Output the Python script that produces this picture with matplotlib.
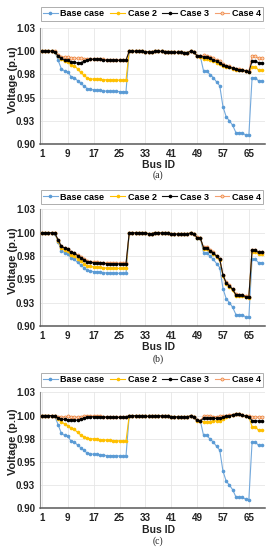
import matplotlib
matplotlib.use('Agg')
import matplotlib.pyplot as plt

plt.rcParams['font.family'] = ['Liberation Sans', 'DejaVu Sans']
plt.rcParams['font.weight'] = 'bold'

bus_ids = list(range(1, 70))
x_tick_labels = [1, 9, 17, 25, 33, 41, 49, 57, 65]
y_ticks = [0.900, 0.925, 0.950, 0.975, 1.000, 1.025]
y_tick_labels = ['0.90', '0.93', '0.95', '0.98', '1.00', '1.03']
series_names = ['Base case', 'Case 2', 'Case 3', 'Case 4']
panel_labels = ['(a)', '(b)', '(c)']

base_case = [1.0, 1.0, 0.9999, 0.9998, 0.9990, 0.9901, 0.9808, 0.9786, 0.9775, 0.9725,
             0.9714, 0.9682, 0.9653, 0.9624, 0.9595, 0.9590, 0.9581, 0.9581, 0.9576, 0.9573,
             0.9568, 0.9568, 0.9568, 0.9566, 0.9564, 0.9564, 0.9563,
             0.9999, 0.9999, 0.9997, 0.9997, 0.9996, 0.9994, 0.9990, 0.9990, 0.9999, 0.9998,
             0.9996, 0.9995, 0.9995, 0.9988, 0.9986, 0.9985, 0.9985, 0.9984, 0.9984, 0.9998,
             0.9985, 0.9947, 0.9942,
             0.9785, 0.9785, 0.9747, 0.9714, 0.9669, 0.9626, 0.9401, 0.9292, 0.9250, 0.9200,
             0.9123, 0.9121, 0.9117, 0.9098, 0.9092,
             0.9713, 0.9713, 0.9679, 0.9679]

# ---- panel (a)
case2_a = [1.0, 1.0, 1.0, 0.9999, 0.9995, 0.995, 0.991, 0.989, 0.988, 0.985,
           0.984, 0.981, 0.977, 0.974, 0.971, 0.970, 0.9698, 0.9697, 0.9694, 0.9692,
           0.969, 0.969, 0.9689, 0.9688, 0.9687, 0.9686, 0.9686,
           0.9999, 0.9999, 0.9997, 0.9997, 0.9996, 0.9994, 0.9990, 0.9990, 0.9999, 0.9998,
           0.9996, 0.9995, 0.9995, 0.9988, 0.9986, 0.9985, 0.9985, 0.9984, 0.9984, 0.9998,
           0.9985, 0.9947, 0.9940,
           0.9915, 0.9912, 0.990, 0.9888, 0.9875, 0.986, 0.984, 0.983, 0.9823, 0.981,
           0.980, 0.9798, 0.9795, 0.978, 0.977,
           0.983, 0.983, 0.9796, 0.9796]
case3_a = [1.0, 1.0, 1.0, 0.9999, 0.9995, 0.9945, 0.992, 0.9905, 0.990, 0.9885,
           0.9878, 0.9872, 0.9875, 0.989, 0.9905, 0.991, 0.9912, 0.9912, 0.991, 0.9905,
           0.990, 0.990, 0.990, 0.990, 0.990, 0.990, 0.990,
           0.9999, 0.9999, 0.9997, 0.9997, 0.9996, 0.9994, 0.9990, 0.9990, 0.9999, 0.9998,
           0.9996, 0.9995, 0.9995, 0.9988, 0.9986, 0.9985, 0.9985, 0.9984, 0.9984, 0.9998,
           0.9985, 0.9950, 0.9945,
           0.9935, 0.9932, 0.992, 0.9905, 0.989, 0.9875, 0.9848, 0.9835, 0.9828, 0.9815,
           0.9805, 0.980, 0.9797, 0.9785, 0.9775,
           0.989, 0.989, 0.9875, 0.9875]
case4_a = [1.0, 1.0, 1.0, 0.9999, 0.9996, 0.9955, 0.994, 0.9935, 0.9932, 0.9928,
           0.9925, 0.992, 0.992, 0.9918, 0.9915, 0.9915, 0.9915, 0.9914, 0.9912, 0.991,
           0.9908, 0.9908, 0.9907, 0.9906, 0.9906, 0.9905, 0.9905,
           0.9999, 0.9999, 0.9997, 0.9997, 0.9996, 0.9994, 0.9990, 0.9990, 0.9999, 0.9998,
           0.9996, 0.9995, 0.9995, 0.9988, 0.9986, 0.9985, 0.9985, 0.9984, 0.9984, 0.9998,
           0.9986, 0.9952, 0.9948,
           0.9953, 0.995, 0.9938, 0.9922, 0.9905, 0.989, 0.9858, 0.9842, 0.9835, 0.982,
           0.981, 0.9805, 0.980, 0.979, 0.978,
           0.9946, 0.9946, 0.992, 0.992]

# ---- panel (b)
case2_b = [1.0, 1.0, 0.9999, 0.9999, 0.9991, 0.9913, 0.9831, 0.9812, 0.9802, 0.9758,
           0.9748, 0.972, 0.9694, 0.9669, 0.9644, 0.9639, 0.9631, 0.9631, 0.9627, 0.9624,
           0.962, 0.962, 0.962, 0.9618, 0.9617, 0.9616, 0.9616,
           0.9999, 0.9999, 0.9997, 0.9997, 0.9996, 0.9994, 0.9990, 0.9990, 0.9999, 0.9998,
           0.9996, 0.9995, 0.9995, 0.9988, 0.9986, 0.9985, 0.9985, 0.9984, 0.9984, 0.9998,
           0.9985, 0.9947, 0.9942,
           0.9829, 0.9829, 0.9799, 0.9775, 0.9741, 0.9707, 0.9537, 0.9454, 0.9422, 0.9384,
           0.9326, 0.9324, 0.9321, 0.9306, 0.9302,
           0.9797, 0.9797, 0.9768, 0.9768]
case3_b = [1.0, 1.0, 0.9999, 0.9999, 0.9992, 0.9924, 0.9852, 0.9835, 0.9826, 0.9788,
           0.9779, 0.9755, 0.9733, 0.971, 0.9688, 0.9684, 0.9677, 0.9677, 0.9674, 0.9671,
           0.9668, 0.9668, 0.9667, 0.9666, 0.9665, 0.9664, 0.9664,
           0.9999, 0.9999, 0.9997, 0.9997, 0.9996, 0.9994, 0.9990, 0.9990, 0.9999, 0.9998,
           0.9996, 0.9995, 0.9995, 0.9988, 0.9986, 0.9985, 0.9985, 0.9984, 0.9984, 0.9998,
           0.9985, 0.9947, 0.9942,
           0.9837, 0.9837, 0.9807, 0.9783, 0.9749, 0.9715, 0.9545, 0.9462, 0.943, 0.9392,
           0.9334, 0.9332, 0.9329, 0.9314, 0.931,
           0.981, 0.981, 0.9788, 0.9788]
case4_b = [1.0, 1.0, 0.9999, 0.9999, 0.9993, 0.9925, 0.9855, 0.9838, 0.983, 0.9792,
           0.9784, 0.976, 0.9738, 0.9716, 0.9694, 0.969, 0.9684, 0.9684, 0.968, 0.9678,
           0.9674, 0.9674, 0.9674, 0.9672, 0.9671, 0.967, 0.967,
           0.9999, 0.9999, 0.9997, 0.9997, 0.9996, 0.9994, 0.9990, 0.9990, 0.9999, 0.9998,
           0.9996, 0.9995, 0.9995, 0.9988, 0.9986, 0.9985, 0.9985, 0.9984, 0.9984, 0.9998,
           0.9985, 0.9948, 0.9943,
           0.9842, 0.9842, 0.9812, 0.9788, 0.9754, 0.972, 0.955, 0.9467, 0.9435, 0.9397,
           0.9339, 0.9337, 0.9334, 0.9319, 0.9315,
           0.9815, 0.9815, 0.9792, 0.9792]

# ---- panel (c)
case2_c = [1.0, 1.0, 1.0, 0.9999, 0.9995, 0.996, 0.993, 0.991, 0.989, 0.986,
           0.985, 0.982, 0.979, 0.977, 0.9755, 0.975, 0.9748, 0.9745, 0.974, 0.9737,
           0.9735, 0.9733, 0.973, 0.9728, 0.9726, 0.9725, 0.9725,
           0.9999, 0.9999, 0.9997, 0.9997, 0.9996, 0.9994, 0.9990, 0.9990, 0.9999, 0.9998,
           0.9996, 0.9995, 0.9995, 0.9988, 0.9986, 0.9985, 0.9985, 0.9984, 0.9984, 0.9998,
           0.9985, 0.9945, 0.9938,
           0.9935, 0.9935, 0.9935, 0.994, 0.9942, 0.9945, 0.9965, 0.998, 0.999, 1.0005,
           1.0015, 1.0012, 1.0005, 0.999, 0.9985,
           0.988, 0.988, 0.984, 0.984]
case3_c = [1.0, 1.0, 1.0, 0.9999, 0.9997, 0.997, 0.996, 0.9958, 0.9955, 0.9952,
           0.995, 0.995, 0.9958, 0.997, 0.998, 0.9985, 0.9988, 0.9988, 0.9986, 0.9984,
           0.9982, 0.9981, 0.998, 0.998, 0.998, 0.998, 0.998,
           0.9999, 0.9999, 0.9997, 0.9997, 0.9996, 0.9994, 0.9990, 0.9990, 0.9999, 0.9998,
           0.9996, 0.9995, 0.9995, 0.9988, 0.9986, 0.9985, 0.9985, 0.9984, 0.9984, 0.9998,
           0.9985, 0.9947, 0.9942,
           0.997, 0.997, 0.9968, 0.9968, 0.9968, 0.997, 0.998, 0.999, 0.9995, 1.0007,
           1.0016, 1.0013, 1.0006, 0.9992, 0.9985,
           0.9945, 0.9945, 0.994, 0.994]
case4_c = [1.0, 1.0, 1.0, 1.0, 0.9998, 0.9985, 0.998, 0.9985, 0.999, 0.9985,
           0.998, 0.9982, 0.9988, 0.9992, 0.9993, 0.9993, 0.9993, 0.9992, 0.999, 0.9989,
           0.9988, 0.9987, 0.9986, 0.9986, 0.9985, 0.9985, 0.9985,
           0.9999, 0.9999, 0.9997, 0.9997, 0.9996, 0.9994, 0.9990, 0.9990, 0.9999, 0.9998,
           0.9996, 0.9995, 0.9995, 0.9988, 0.9986, 0.9985, 0.9985, 0.9984, 0.9984, 0.9998,
           0.9986, 0.9950, 0.9946,
           0.999, 0.999, 0.999, 0.9988, 0.9988, 0.999, 0.9995, 1.0, 1.0003, 1.001,
           1.0017, 1.0014, 1.0007, 0.9995, 0.999,
           0.9988, 0.9988, 0.998, 0.998]

panels = [
    (base_case, case2_a, case3_a, case4_a),
    (base_case, case2_b, case3_b, case4_b),
    (base_case, case2_c, case3_c, case4_c),
]

W, H = 273, 550
fig = plt.figure(figsize=(W / 100, H / 100), dpi=100)

# pixel layout: (top, bottom) of axes, legend centre y, ylabel y, Bus ID y, panel label y
layout = [
    (27.8, 144.0, 14.0, 80.0, 165.5, 175.5),
    (209.3, 326.0, 197.0, 261.0, 347.5, 359.5),
    (392.3, 508.3, 380.0, 442.0, 530.0, 541.0),
]
ax_left, ax_right = 40.0, 265.0

styles = [
    dict(color='#74A9DC', marker='o', ms=1.6, mfc='#5B9BD5', mec='#5B9BD5', zorder=2),
    dict(color='#FFC000', marker='o', ms=1.6, mfc='#FFC000', mec='#FFC000', zorder=3),
    dict(color='#111111', marker='o', ms=1.6, mfc='#000000', mec='#000000', zorder=5),
    dict(color='#F4A070', marker='o', ms=2.2, mfc='#FBD5BC', mec='#ED7D31', mew=0.5, zorder=4),
]

for p, (series, lay) in enumerate(zip(panels, layout)):
    top, bot, leg_y, ylab_y, bus_y, lab_y = lay
    ax = fig.add_axes([ax_left / W, 1 - bot / H, (ax_right - ax_left) / W, (bot - top) / H])
    handles = []
    for name, vals, st in zip(series_names, series, styles):
        h, = ax.plot(bus_ids, vals, lw=0.8, label=name, **st)
        handles.append(h)
    ax.set_ylim(0.9, 1.025)
    ax.set_xlim(0.4, 70.0)
    ax.set_yticks(y_ticks)
    ax.set_yticklabels(y_tick_labels)
    ax.set_xticks(x_tick_labels)
    ax.set_xticklabels([str(v) for v in x_tick_labels])
    ax.tick_params(axis='both', length=0, labelsize=7, colors='#222222')
    ax.tick_params(axis='x', pad=3.5)
    ax.tick_params(axis='y', pad=3.5)
    ax.grid(True, color='#E6E6E6', lw=0.6)
    ax.set_axisbelow(True)
    for s in ('top', 'right'):
        ax.spines[s].set_visible(False)
    ax.spines['left'].set_color('#8C8C8C')
    ax.spines['left'].set_linewidth(0.8)
    ax.spines['bottom'].set_color('#595959')
    ax.spines['bottom'].set_linewidth(1.1)

    leg = ax.legend(handles=handles, loc='center',
                    bbox_to_anchor=(41 / W, 1 - (leg_y + 6.5) / H, 222 / W, 13 / H),
                    bbox_transform=fig.transFigure, mode='expand', ncol=4,
                    fontsize=6.5, frameon=True, fancybox=False, edgecolor='#9A9A9A',
                    handlelength=1.6, handletextpad=0.3, columnspacing=0.6,
                    borderpad=0.25, borderaxespad=0)
    leg.get_frame().set_linewidth(0.7)

    fig.text(13 / W, 1 - ylab_y / H, 'Voltage (p.u)', rotation=90, ha='center', va='center',
             fontsize=8, fontweight='bold', color='#222222')
    fig.text(158 / W, 1 - bus_y / H, 'Bus ID', ha='center', va='center',
             fontsize=7.5, fontweight='bold', color='#222222')
    fig.text(158 / W, 1 - lab_y / H, panel_labels[p], ha='center', va='center',
             fontsize=7, fontweight='normal', family=['Liberation Serif', 'DejaVu Serif'],
             color='#222222')

fig.savefig('out.png', dpi=100)
